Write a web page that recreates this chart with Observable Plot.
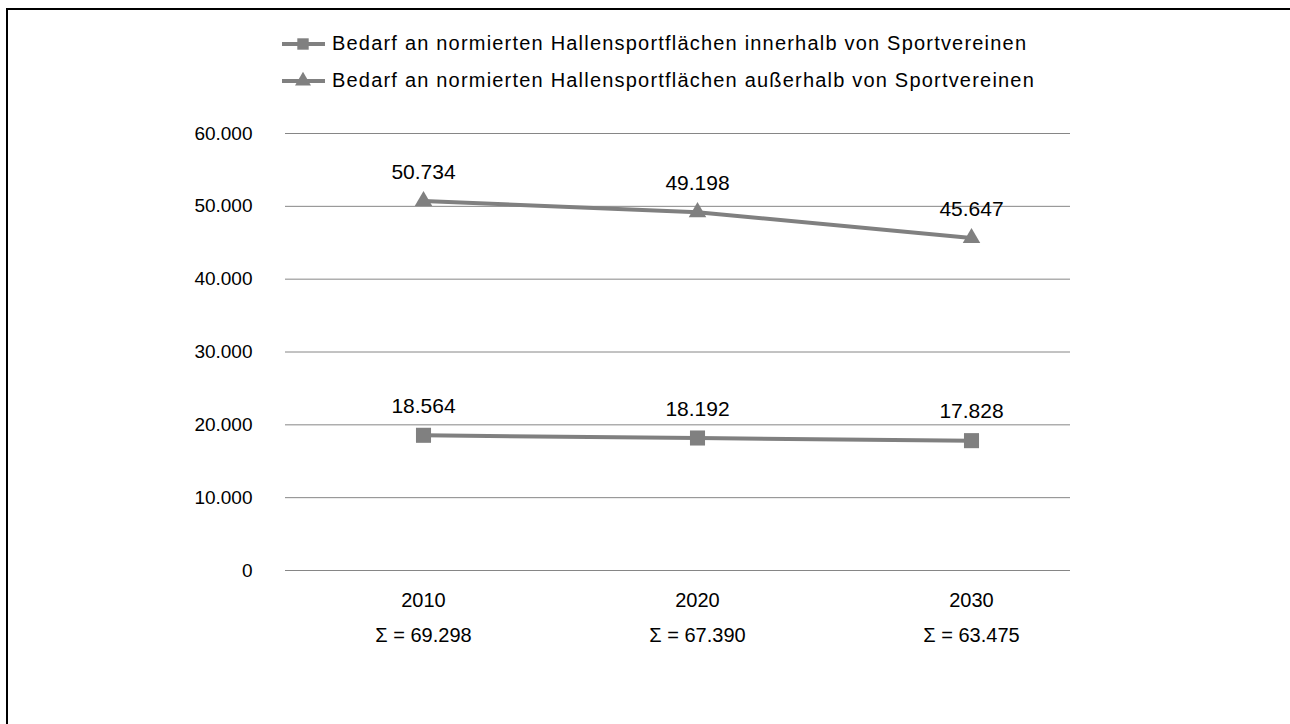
<!DOCTYPE html>
<html><head><meta charset="utf-8">
<script src="https://cdn.jsdelivr.net/npm/d3@7"></script>
<script src="https://cdn.jsdelivr.net/npm/@observablehq/plot@0.6"></script>
<style>
body{margin:0;background:#fff;font-family:"Liberation Sans",Arial,sans-serif;}
#frame{position:absolute;left:6px;top:8px;width:1284px;height:716px;border-left:2px solid #000;border-top:2px solid #000;box-sizing:border-box;}
#chart{position:absolute;left:0;top:0;}
#legend{position:absolute;left:282px;top:25px;font-size:20px;color:#000;letter-spacing:1.2px;}
.row{height:37px;display:flex;align-items:center;white-space:nowrap;}
.row svg{margin-right:7px;}
</style>
</head><body>
<div id="frame"></div>
<div id="chart"></div>
<div id="legend"></div>
<script>
const years = ["2010", "2020", "2030"];
const innerhalb = [18564, 18192, 17828];
const ausserhalb = [50734, 49198, 45647];
const sums = [69298, 67390, 63475];
const yTicks = [0, 10000, 20000, 30000, 40000, 50000, 60000];
const seriesNames = [
  "Bedarf an normierten Hallensportflächen innerhalb von Sportvereinen",
  "Bedarf an normierten Hallensportflächen außerhalb von Sportvereinen"
];
const grey = "#808080";

const loc = d3.formatLocale({decimal: ",", thousands: ".", grouping: [3], currency: ["", "€"]});
const fmt = loc.format(",");

const inRows = years.map((y, i) => ({year: y, value: innerhalb[i], series: seriesNames[0]}));
const ausRows = years.map((y, i) => ({year: y, value: ausserhalb[i], series: seriesNames[1]}));
const allRows = inRows.concat(ausRows);
const sumRows = years.map((y, i) => ({year: y, sum: sums[i]}));

const chart = Plot.plot({
  width: 1290, height: 724,
  marginTop: 133, marginBottom: 154, marginLeft: 285, marginRight: 220,
  style: {fontFamily: "Liberation Sans, Arial, sans-serif", fontSize: "20px", color: "#000", background: "transparent"},
  x: {type: "point", domain: years, range: [422, 971], padding: 0, label: null},
  y: {domain: [0, 60000], label: null},
  marks: [
    Plot.gridY(yTicks, {stroke: "#868686", strokeOpacity: 1, strokeWidth: 1}),
    Plot.axisY(yTicks, {tickFormat: fmt, tickSize: 0, tickPadding: 33, label: null, fill: "#000", fontSize: 19}),
    Plot.axisX({tickSize: 0, tickPadding: 22, label: null, fill: "#000", fontSize: 20}),
    Plot.line(allRows, {x: "year", y: "value", z: "series", stroke: grey, strokeWidth: 4}),
    Plot.dot(inRows, {x: "year", y: "value", symbol: "square", r: 8.5, fill: grey}),
    Plot.dot(ausRows, {x: "year", y: "value", symbol: "triangle", r: 6.5, fill: grey}),
    Plot.text(allRows, {x: "year", y: "value", text: d => fmt(d.value), dy: -29, fill: "#000", fontSize: 21}),
    Plot.text(sumRows, {x: "year", text: d => "Σ = " + fmt(d.sum), frameAnchor: "bottom", dy: 71, fill: "#000", fontSize: 20})
  ]
});
document.getElementById("chart").appendChild(chart);

const legend = document.getElementById("legend");
const symbols = [d3.symbolSquare, d3.symbolTriangle];
const sizes = [130, 110];
seriesNames.forEach((name, i) => {
  const row = document.createElement("div");
  row.className = "row";
  const svg = d3.create("svg").attr("width", 43).attr("height", 20);
  svg.append("line").attr("x1", 0).attr("x2", 43).attr("y1", 10).attr("y2", 10).attr("stroke", grey).attr("stroke-width", 4);
  svg.append("path").attr("transform", "translate(21,10)").attr("d", d3.symbol(symbols[i], sizes[i])()).attr("fill", grey);
  row.appendChild(svg.node());
  const span = document.createElement("span");
  span.textContent = name;
  row.appendChild(span);
  legend.appendChild(row);
});
</script>
</body></html>
